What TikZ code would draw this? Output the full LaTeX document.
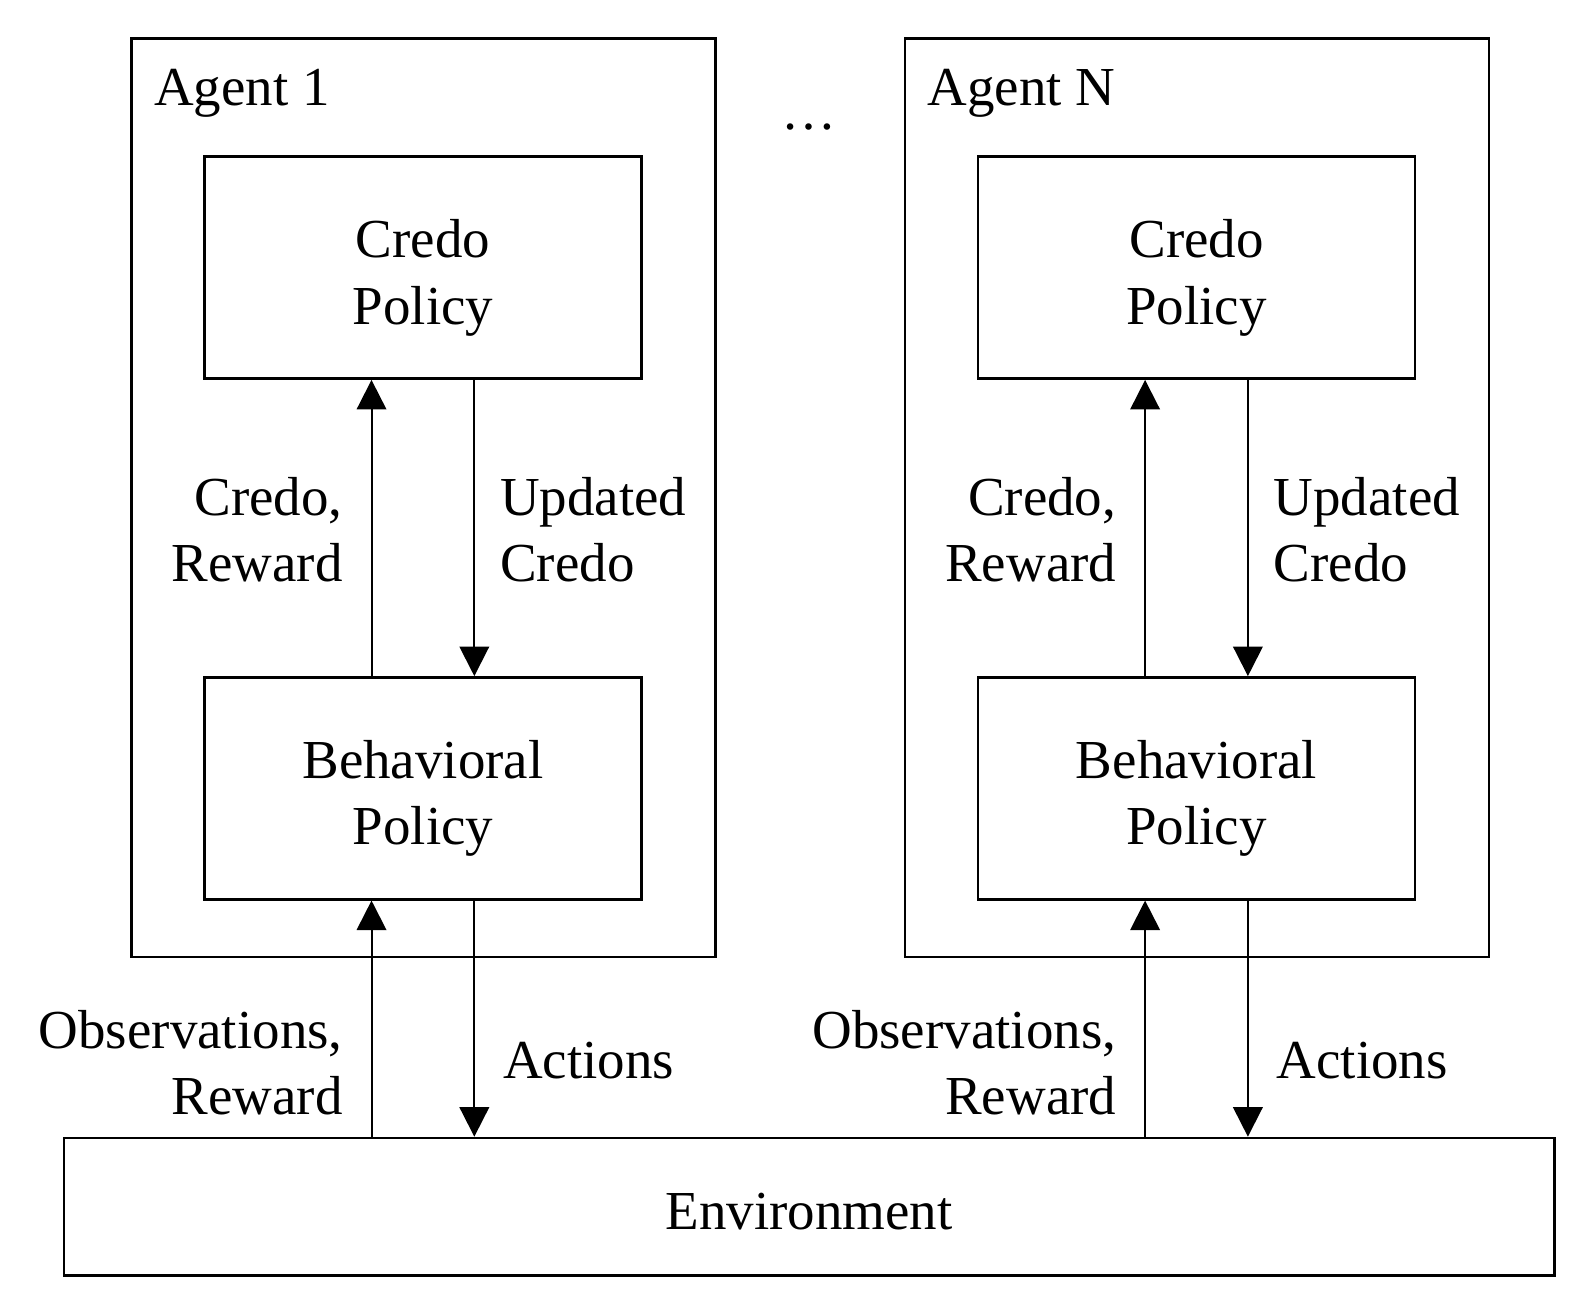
\documentclass[tikz,border=0pt]{standalone}
\usepackage{fontspec}
\setmainfont{Liberation Serif}
\usetikzlibrary{arrows.meta}
\begin{document}
\begin{tikzpicture}[x=0.5pt,y=-0.5pt,
  box/.style={draw,line width=1.25pt,inner sep=0pt,rectangle},
  agentbox/.style={box,minimum width=287pt,minimum height=451pt},
  polbox/.style={box,minimum width=214.5pt,minimum height=109pt},
  lbl/.style={inner sep=0pt,font=\fontsize{27}{32.5}\selectfont},
  arr/.style={line width=1pt,-{Triangle[length=14.5pt,width=14.5pt]}}]
\useasboundingbox (0,0) rectangle (1568,1279);

% Agent 1
\node[agentbox] (a1) at (416,489) {};
\node[lbl,anchor=base west] (a1t) at (151,104) {Agent 1};
\node[polbox] (c1) at (415.5,263) {};
\node[lbl,align=center] (c1t) at (415.5,273) {Credo\\Policy};
\node[polbox] (b1) at (415.5,774.5) {};
\node[lbl,align=center] (b1t) at (415.5,784) {Behavioral\\Policy};
\coordinate (x1L) at (365,0);
\coordinate (x1R) at (466,0);

% Agent N
\node[agentbox] (aN) at (1176,489) {};
\node[lbl,anchor=base west] (aNt) at (911,104) {Agent N};
\node[polbox] (cN) at (1175.5,263) {};
\node[lbl,align=center] (cNt) at (1175.5,273) {Credo\\Policy};
\node[polbox] (bN) at (1175.5,774.5) {};
\node[lbl,align=center] (bNt) at (1175.5,784) {Behavioral\\Policy};
\coordinate (xNL) at (1125,0);
\coordinate (xNR) at (1226,0);

% dots
\node[lbl] (dots) at (795,125) {…};

% Environment
\node[box,minimum width=732pt,minimum height=67.5pt] (env) at (795,1185.5) {};
\node[lbl] (envt) at (795,1190) {Environment};

% arrows agent 1
\draw[arr] (b1.north -| x1L) -- (c1.south -| x1L);
\draw[arr] (c1.south -| x1R) -- (b1.north -| x1R);
\draw[arr] (env.north -| x1L) -- (b1.south -| x1L);
\draw[arr] (b1.south -| x1R) -- (env.north -| x1R);
% arrows agent N
\draw[arr] (bN.north -| xNL) -- (cN.south -| xNL);
\draw[arr] (cN.south -| xNR) -- (bN.north -| xNR);
\draw[arr] (env.north -| xNL) -- (bN.south -| xNL);
\draw[arr] (bN.south -| xNR) -- (env.north -| xNR);

% arrow labels agent 1
\node[lbl,align=right,anchor=east] (l1a) at (337,520) {Credo,\\Reward};
\node[lbl,align=left,anchor=west] (l1b) at (491,520) {Updated\\Credo};
\node[lbl,align=right,anchor=east] (l1c) at (337,1044) {Observations,\\Reward};
\node[lbl,anchor=west] (l1d) at (494,1042) {Actions};
% arrow labels agent N
\node[lbl,align=right,anchor=east] (lNa) at (1097,520) {Credo,\\Reward};
\node[lbl,align=left,anchor=west] (lNb) at (1251,520) {Updated\\Credo};
\node[lbl,align=right,anchor=east] (lNc) at (1097,1044) {Observations,\\Reward};
\node[lbl,anchor=west] (lNd) at (1254,1042) {Actions};
\end{tikzpicture}
\end{document}
